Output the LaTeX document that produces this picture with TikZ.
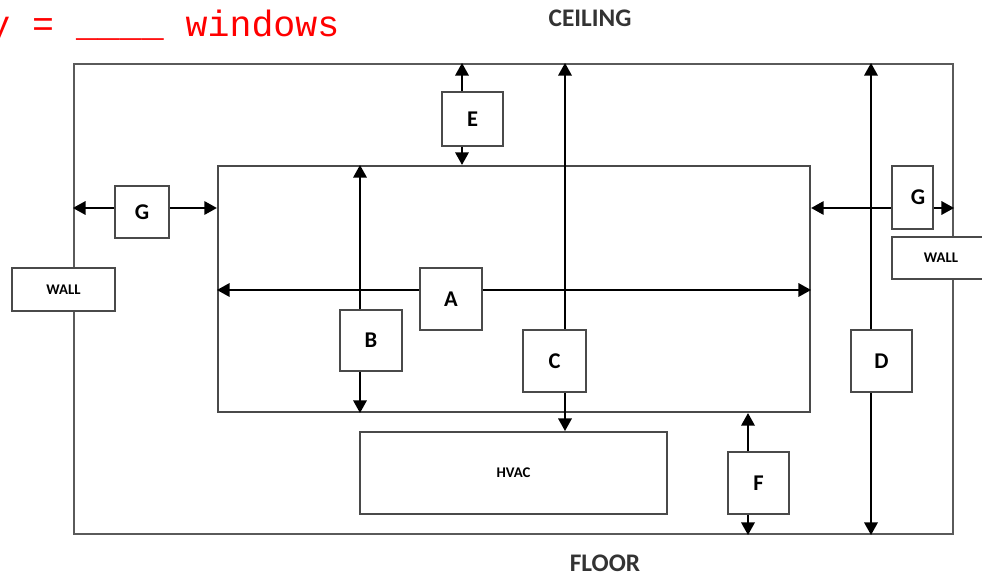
\documentclass[tikz,border=0pt]{standalone}
\usepackage{fontspec}
\setmainfont{Carlito}
\newfontfamily\redmono{Liberation Mono}
\usetikzlibrary{arrows.meta}
\definecolor{wallgray}{HTML}{5A5A5A}
\definecolor{boxgray}{HTML}{4A4A4A}
\tikzset{
  room/.style={draw=wallgray, line width=1.4pt, inner sep=0pt},
  box/.style={draw=boxgray, line width=1.3pt, fill=white, inner sep=0pt,
    font=\bfseries\fontsize{16}{18}\selectfont},
  smallbox/.style={box, font=\bfseries\fontsize{10.5}{12}\selectfont},
  arr/.style={-{Triangle[length=9pt,width=9.5pt]}, line width=1.6pt, black},
  caption/.style={font=\bfseries\fontsize{18}{20}\selectfont, text=black!80}
}
\begin{document}
\begin{tikzpicture}[x=0.025cm, y=-0.025cm]
  \useasboundingbox (0,0) rectangle (982,577);

  % header text
  \node[anchor=base west, inner sep=0pt, text=red, font=\redmono\fontsize{26}{28}\selectfont]
    (note) at (-12,37) {y = \_\_\_\_ windows};
  \node[caption] (ceiling) at (590,18) {CEILING};
  \node[caption] (floor) at (605,563) {FLOOR};

  % Room outline and working zone
  \node[room, minimum width=21.975cm, minimum height=11.75cm] (room) at (513.5,299) {};
  \node[room, draw=boxgray, minimum width=14.8cm, minimum height=6.15cm] (inner) at (514,289) {};

  % walls and HVAC unit
  \node[smallbox, minimum width=2.575cm, minimum height=1.075cm] (wallL) at (63.5,289.5) {WALL};
  \node[smallbox, minimum width=2.45cm, minimum height=1.05cm] (wallR) at (941,258) {WALL};
  \node[smallbox, minimum width=7.675cm, minimum height=2.05cm] (hvac) at (513.5,473) {HVAC};

  % clearance boxes
  \node[box, minimum width=1.55cm, minimum height=1.55cm] (boxA) at (451,299) {A};
  \node[box, minimum width=1.55cm, minimum height=1.525cm] (boxB) at (371,340.5) {B};
  \node[box, minimum width=1.575cm, minimum height=1.55cm] (boxC) at (554.5,361) {C};
  \node[box, minimum width=1.525cm, minimum height=1.55cm] (boxD) at (881.5,361) {D};
  \node[box, minimum width=1.525cm, minimum height=1.35cm] (boxE) at (472.5,119) {E};
  \node[box, minimum width=1.525cm, minimum height=1.55cm] (boxF) at (758.5,483) {F};
  \node[box, minimum width=1.35cm, minimum height=1.3cm] (boxGL) at (142,212) {G};
  \node[box, minimum width=1.025cm, minimum height=1.575cm] (boxGR) at (912.5,197.5) {\hspace*{8pt}G};

  % line positions
  \coordinate (lineA) at (0,290);
  \coordinate (lineB) at (360,0);
  \coordinate (lineC) at (565,0);
  \coordinate (lineD) at (871,0);
  \coordinate (lineE) at (462,0);
  \coordinate (lineF) at (748,0);
  \coordinate (lineG) at (0,208);

  % A
  \draw[arr] (boxA.west |- lineA) -- (inner.west |- lineA);
  \draw[arr] (boxA.east |- lineA) -- (inner.east |- lineA);
  % B
  \draw[arr] (boxB.north -| lineB) -- (inner.north -| lineB);
  \draw[arr] (boxB.south -| lineB) -- (inner.south -| lineB);
  % C
  \draw[arr] (boxC.north -| lineC) -- (room.north -| lineC);
  \draw[arr] (boxC.south -| lineC) -- (hvac.north -| lineC);
  % D
  \draw[arr] (boxD.north -| lineD) -- (room.north -| lineD);
  \draw[arr] (boxD.south -| lineD) -- (room.south -| lineD);
  % E
  \draw[arr] (boxE.north -| lineE) -- (room.north -| lineE);
  \draw[arr] (boxE.south -| lineE) -- (inner.north -| lineE);
  % F
  \draw[arr] (boxF.north -| lineF) -- (inner.south -| lineF);
  \draw[arr] (boxF.south -| lineF) -- (room.south -| lineF);
  % G
  \draw[arr] (boxGL.west |- lineG) -- (room.west |- lineG);
  \draw[arr] (boxGL.east |- lineG) -- (inner.west |- lineG);
  \draw[arr] (boxGR.west |- lineG) -- (inner.east |- lineG);
  \draw[arr] (boxGR.east |- lineG) -- (room.east |- lineG);
\end{tikzpicture}
\end{document}
